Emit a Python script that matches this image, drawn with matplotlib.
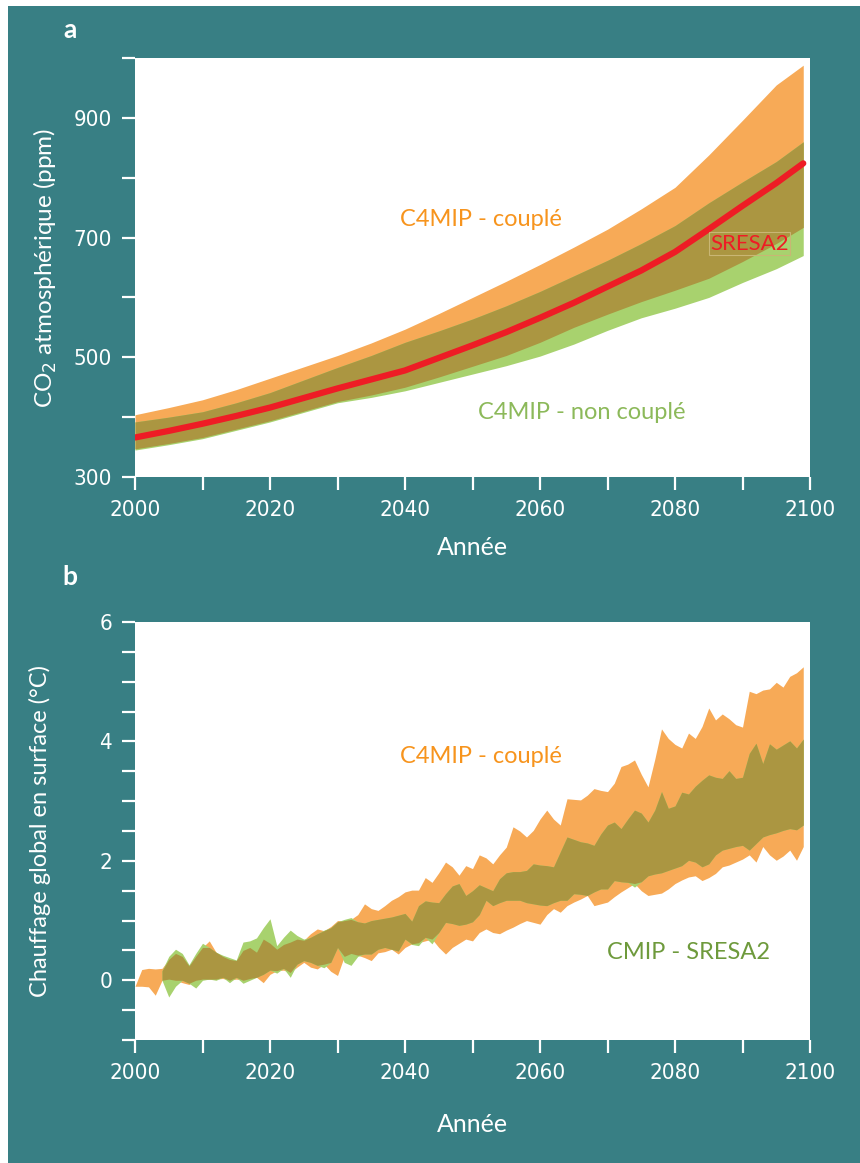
import numpy as np
import matplotlib.pyplot as plt
from matplotlib.patches import Rectangle

# ---- panel a : atmospheric CO2 (ppm), 5-year steps ----
years_a = [2000, 2005, 2010, 2015, 2020, 2025, 2030, 2035, 2040, 2045, 2050,
           2055, 2060, 2065, 2070, 2075, 2080, 2085, 2090, 2095, 2099]
coupled_hi = [404, 416, 429, 446, 465, 484, 503, 524, 547, 573, 600,
              627, 655, 684, 714, 748, 784, 838, 896, 955, 988]
coupled_lo = [347, 356, 366, 380, 394, 410, 426, 437, 450, 467, 485,
              503, 525, 550, 572, 593, 612, 632, 660, 690, 717]
uncoupled_hi = [392, 400, 409, 424, 441, 462, 483, 503, 525, 544, 564,
                586, 610, 636, 662, 690, 720, 758, 793, 827, 860]
uncoupled_lo = [345, 354, 364, 378, 392, 408, 424, 433, 444, 458, 472,
                486, 502, 522, 545, 566, 582, 600, 625, 648, 670]
sresa2 = [366, 377, 389, 402, 416, 432, 448, 463, 478, 499, 520,
          542, 566, 591, 618, 645, 676, 714, 753, 791, 824]

# ---- panel b : global surface warming (degC), yearly ----
years_b = list(range(2000, 2100))
c4_hi = [-0.10, 0.18, 0.20, 0.19, 0.20, 0.35, 0.45, 0.40, 0.24, 0.40,
         0.55, 0.66, 0.47, 0.40, 0.35, 0.33, 0.50, 0.55, 0.47, 0.69,
         0.62, 0.52, 0.60, 0.64, 0.69, 0.67, 0.78, 0.86, 0.83, 0.90,
         1.00, 1.00, 1.02, 1.10, 1.28, 1.20, 1.17, 1.25, 1.34, 1.40,
         1.48, 1.51, 1.51, 1.72, 1.64, 1.80, 1.98, 1.90, 1.76, 1.92,
         1.87, 2.10, 2.05, 1.95, 2.10, 2.23, 2.57, 2.50, 2.40, 2.51,
         2.70, 2.85, 2.70, 2.60, 3.04, 3.03, 3.02, 3.10, 3.21, 3.18,
         3.16, 3.30, 3.58, 3.62, 3.69, 3.45, 3.24, 3.70, 4.21, 4.05,
         3.95, 3.89, 4.14, 4.05, 4.25, 4.56, 4.36, 4.46, 4.38, 4.28,
         4.24, 4.84, 4.80, 4.86, 4.88, 4.99, 4.91, 5.09, 5.15, 5.25]
c4_lo = [-0.10, -0.10, -0.11, -0.25, 0.00, 0.02, 0.00, -0.04, -0.07, 0.00,
         0.02, 0.02, 0.02, 0.03, 0.00, 0.02, 0.00, 0.03, 0.05, -0.04,
         0.10, 0.16, 0.17, 0.13, 0.22, 0.30, 0.22, 0.19, 0.27, 0.15,
         0.08, 0.40, 0.45, 0.42, 0.38, 0.33, 0.46, 0.48, 0.52, 0.44,
         0.55, 0.61, 0.63, 0.66, 0.69, 0.55, 0.44, 0.55, 0.62, 0.69,
         0.66, 0.80, 0.86, 0.80, 0.78, 0.84, 0.89, 0.95, 1.00, 0.97,
         0.94, 1.10, 1.20, 1.14, 1.25, 1.31, 1.36, 1.42, 1.25, 1.28,
         1.31, 1.40, 1.48, 1.55, 1.62, 1.50, 1.42, 1.44, 1.46, 1.53,
         1.62, 1.68, 1.73, 1.75, 1.67, 1.72, 1.79, 1.90, 1.93, 1.98,
         2.03, 2.10, 1.98, 2.24, 2.10, 2.01, 2.08, 2.18, 2.01, 2.24]
nan = np.nan
cmip_hi = [nan, nan, nan, nan, 0.16, 0.40, 0.52, 0.45, 0.26, 0.45,
           0.62, 0.55, 0.47, 0.42, 0.38, 0.34, 0.64, 0.66, 0.71, 0.88,
           1.03, 0.58, 0.72, 0.84, 0.75, 0.69, 0.72, 0.78, 0.84, 0.88,
           0.98, 1.02, 1.05, 0.98, 0.96, 1.00, 1.02, 1.04, 1.06, 1.09,
           1.12, 0.99, 1.25, 1.33, 1.31, 1.30, 1.45, 1.58, 1.62, 1.42,
           1.50, 1.60, 1.55, 1.50, 1.70, 1.80, 1.82, 1.82, 1.84, 1.95,
           1.93, 1.92, 1.90, 2.15, 2.40, 2.36, 2.32, 2.30, 2.26, 2.45,
           2.60, 2.65, 2.54, 2.70, 2.85, 2.80, 2.65, 2.85, 3.16, 2.88,
           2.92, 3.15, 3.12, 3.25, 3.35, 3.44, 3.40, 3.38, 3.51, 3.38,
           3.40, 3.80, 3.97, 3.63, 3.96, 3.87, 3.94, 4.01, 3.89, 4.04]
cmip_lo = [nan, nan, nan, nan, 0.00, -0.28, -0.10, 0.00, -0.05, -0.13,
           0.00, 0.02, 0.00, 0.05, -0.04, 0.05, -0.05, 0.00, 0.05, 0.10,
           0.17, 0.12, 0.20, 0.05, 0.27, 0.33, 0.30, 0.25, 0.21, 0.30,
           0.55, 0.30, 0.25, 0.40, 0.44, 0.44, 0.52, 0.55, 0.52, 0.49,
           0.69, 0.60, 0.58, 0.72, 0.61, 0.80, 0.97, 0.95, 0.92, 0.94,
           0.98, 1.10, 1.34, 1.25, 1.30, 1.34, 1.34, 1.34, 1.30, 1.28,
           1.26, 1.25, 1.30, 1.34, 1.34, 1.45, 1.44, 1.42, 1.48, 1.53,
           1.53, 1.67, 1.65, 1.64, 1.56, 1.65, 1.75, 1.78, 1.80, 1.84,
           1.88, 1.92, 2.01, 1.98, 1.90, 1.95, 2.10, 2.18, 2.21, 2.24,
           2.26, 2.18, 2.29, 2.40, 2.44, 2.47, 2.51, 2.54, 2.52, 2.60]

xticks = list(range(2000, 2101, 10))
xlabels = ['2000', '', '2020', '', '2040', '', '2060', '', '2080', '', '2100']
yticks_a = list(range(300, 1001, 100))
ylabels_a = ['300', '', '500', '', '700', '', '900', '']
yticks_b = list(np.arange(-1, 6.01, 0.5))
ylabels_b = ['', '', '0', '', '', '', '2', '', '', '', '4', '', '', '', '6']

TEAL = '#387f84'
ORANGE = '#f7aa57'
GREEN = '#a8d26e'
OLIVE = '#ab9641'
RED = '#ee1c25'

tick_font = ['DejaVu Sans']
text_font = ['Lato', 'DejaVu Sans']

fig = plt.figure(figsize=(8.6, 11.63), dpi=100, facecolor='white')
fig.patches.append(Rectangle((8 / 860, 0), 1, 1 - 6 / 1163, transform=fig.transFigure,
                             facecolor=TEAL, edgecolor='none', zorder=-10))


def style_axes(ax, yticks, ylabels, xlab_y, ylab_x):
    ax.set_facecolor('white')
    for s in ax.spines.values():
        s.set_visible(False)
    ax.set_xticks(xticks)
    ax.set_xticklabels(xlabels)
    ax.set_yticks(yticks)
    ax.set_yticklabels(ylabels)
    ax.tick_params(direction='out', length=9.5, width=1.6, color='white',
                   labelcolor='white', labelsize=16, pad=7)
    for lab in ax.get_xticklabels() + ax.get_yticklabels():
        lab.set_family(tick_font)
        lab.set_fontstretch('condensed')
    ax.set_xlabel('Année', color='white', fontsize=18, family=text_font, va='center')
    ax.xaxis.set_label_coords(0.5, xlab_y)
    ax.yaxis.set_label_coords(ylab_x, 0.5)


# ---------- panel a ----------
ax1 = fig.add_axes([135 / 860, 1 - 477 / 1163, 675 / 860, 419 / 1163])
ya = np.array(years_a)
ch, cl = np.array(coupled_hi), np.array(coupled_lo)
uh, ul = np.array(uncoupled_hi), np.array(uncoupled_lo)
ax1.fill_between(ya, cl, ch, color=ORANGE, lw=0)
ax1.fill_between(ya, ul, uh, color=GREEN, lw=0)
top, bot = np.minimum(ch, uh), np.maximum(cl, ul)
ax1.fill_between(ya, bot, top, where=top > bot, interpolate=True, color=OLIVE, lw=0)
ax1.plot(ya, sresa2, color=RED, lw=4.5, solid_capstyle='round')
ax1.set_xlim(2000, 2100)
ax1.set_ylim(300, 1000)
ax1.set_ylabel('CO$_2$ atmosphérique (ppm)', color='white', fontsize=17.5,
               family=text_font, va='center')
style_axes(ax1, yticks_a, ylabels_a, -0.169, -0.133)
ax1.text(2039.3, 730, 'C4MIP - couplé', color='#f7941d', fontsize=17,
         family=text_font, va='center')
ax1.text(2050.8, 407, 'C4MIP - non couplé', color='#8cb95a', fontsize=17,
         family=text_font, va='center')
ax1.text(2085.2, 690, 'SRESA2', color=RED, fontsize=16, family=text_font, va='center',
         bbox=dict(boxstyle='square,pad=0.05', fc='none', ec='#c9b674', lw=0.8))
fig.text(70 / 860, 1 - 30 / 1163, 'a', color='white', fontsize=19,
         fontweight='bold', family=text_font, ha='center', va='center')

# ---------- panel b ----------
ax2 = fig.add_axes([135 / 860, 1 - 1040 / 1163, 675 / 860, 418 / 1163])
yb = np.array(years_b)
oh, ol = np.array(c4_hi), np.array(c4_lo)
gh, gl = np.array(cmip_hi), np.array(cmip_lo)
ax2.fill_between(yb, ol, oh, color=ORANGE, lw=0)
ax2.fill_between(yb, gl, gh, color=GREEN, lw=0)
top, bot = np.minimum(oh, gh), np.maximum(ol, gl)
ax2.fill_between(yb, bot, top, where=top > bot, interpolate=True, color=OLIVE, lw=0)
ax2.set_xlim(2000, 2100)
ax2.set_ylim(-1, 6)
ax2.set_ylabel('Chauffage global en surface (°C)', color='white', fontsize=17,
               family=text_font, va='center')
style_axes(ax2, yticks_b, ylabels_b, -0.203, -0.141)
ax2.text(2039.3, 3.74, 'C4MIP - couplé', color='#f7941d', fontsize=17,
         family=text_font, va='center')
ax2.text(2069.9, 0.46, 'CMIP - SRESA2', color='#6e9a3c', fontsize=17,
         family=text_font, va='center')
fig.text(70 / 860, 1 - 577 / 1163, 'b', color='white', fontsize=19,
         fontweight='bold', family=text_font, ha='center', va='center')

fig.savefig('out.png', dpi=100, facecolor=fig.get_facecolor())
